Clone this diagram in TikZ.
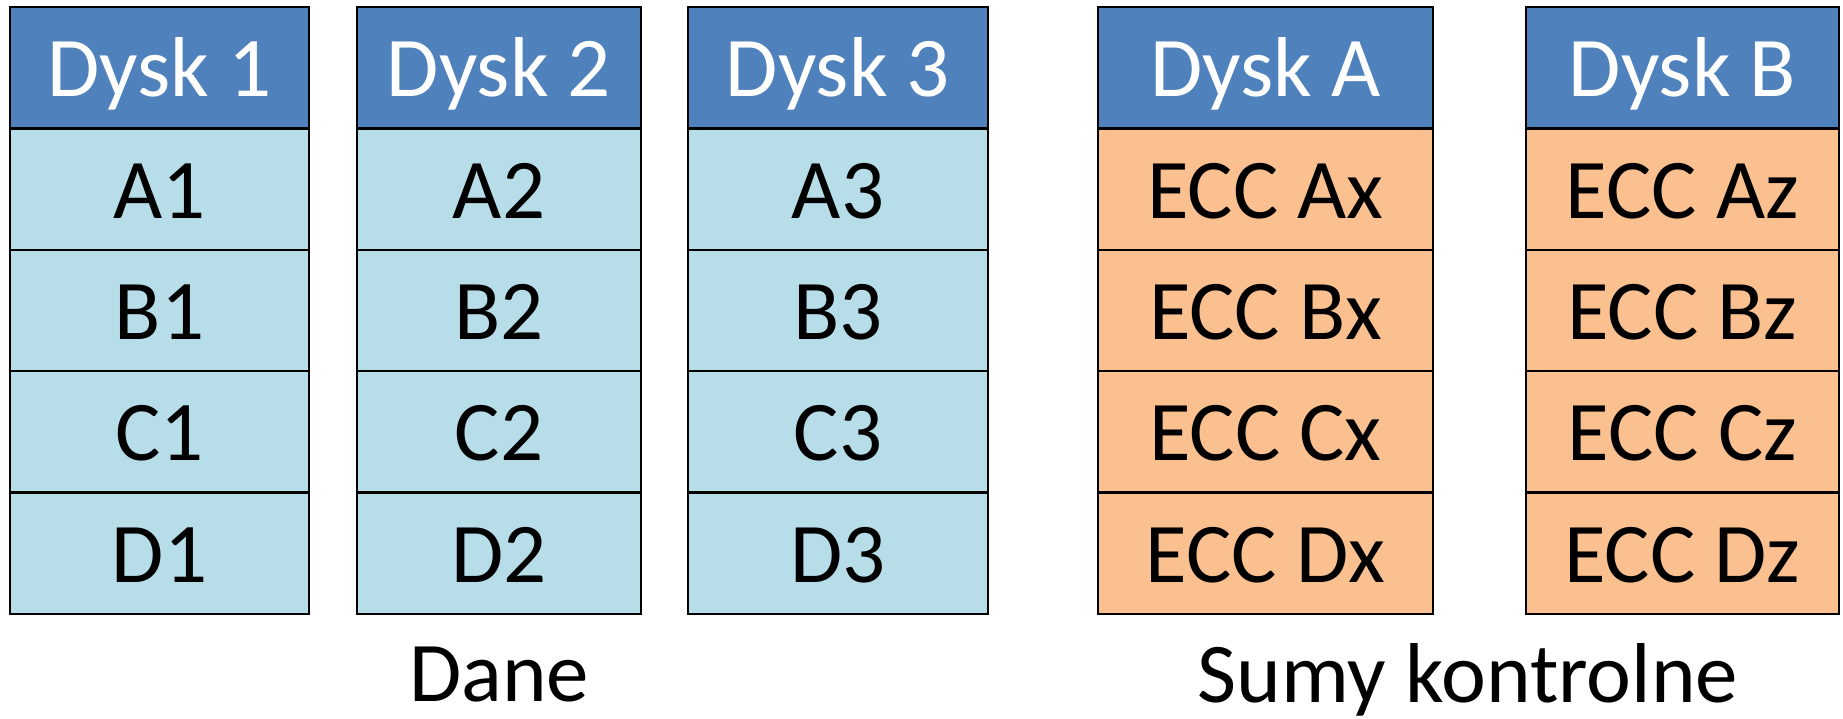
\documentclass[tikz,border=0pt]{standalone}
\usepackage{fontspec}
\setmainfont{Carlito}
\definecolor{hdrblue}{HTML}{4F81BD}
\definecolor{datablue}{HTML}{B7DDE8}
\definecolor{eccorange}{HTML}{FAC090}
\begin{document}
\begin{tikzpicture}[x=0.5pt,y=-0.5pt,
  cell/.style={draw=black,line width=1.2pt,rectangle,inner sep=0pt,minimum height=60.7pt,
    font=\fontsize{42.5}{50}\selectfont,text height=31pt,text depth=2pt},
  hdr/.style={cell,fill=hdrblue,text=white},
  dat/.style={cell,fill=datablue},
  ecc/.style={cell,fill=eccorange},
  caption/.style={inner sep=0pt,anchor=base,font=\fontsize{42.5}{50}\selectfont}]
\useasboundingbox (0,0) rectangle (1843,718);
% column 1
\node[hdr,minimum width=149.5pt] (h1) at (159.5,67.7) {Dysk 1};
\node[dat,minimum width=149.5pt] (a1) at (159.5,189.1) {A1};
\node[dat,minimum width=149.5pt] (b1) at (159.5,310.5) {B1};
\node[dat,minimum width=149.5pt] (c1) at (159.5,431.9) {C1};
\node[dat,minimum width=149.5pt] (d1) at (159.5,553.3) {D1};
% column 2
\node[hdr,minimum width=142pt] (h2) at (499,67.7) {Dysk 2};
\node[dat,minimum width=142pt] (a2) at (499,189.1) {A2};
\node[dat,minimum width=142pt] (b2) at (499,310.5) {B2};
\node[dat,minimum width=142pt] (c2) at (499,431.9) {C2};
\node[dat,minimum width=142pt] (d2) at (499,553.3) {D2};
% column 3
\node[hdr,minimum width=150pt] (h3) at (838,67.7) {Dysk 3};
\node[dat,minimum width=150pt] (a3) at (838,189.1) {A3};
\node[dat,minimum width=150pt] (b3) at (838,310.5) {B3};
\node[dat,minimum width=150pt] (c3) at (838,431.9) {C3};
\node[dat,minimum width=150pt] (d3) at (838,553.3) {D3};
% column A
\node[hdr,minimum width=167.5pt] (hA) at (1265.5,67.7) {Dysk A};
\node[ecc,minimum width=167.5pt] (aA) at (1265.5,189.1) {ECC Ax};
\node[ecc,minimum width=167.5pt] (bA) at (1265.5,310.5) {ECC Bx};
\node[ecc,minimum width=167.5pt] (cA) at (1265.5,431.9) {ECC Cx};
\node[ecc,minimum width=167.5pt] (dA) at (1265.5,553.3) {ECC Dx};
% column B
\node[hdr,minimum width=156.5pt] (hB) at (1682.5,67.7) {Dysk B};
\node[ecc,minimum width=156.5pt] (aB) at (1682.5,189.1) {ECC Az};
\node[ecc,minimum width=156.5pt] (bB) at (1682.5,310.5) {ECC Bz};
\node[ecc,minimum width=156.5pt] (cB) at (1682.5,431.9) {ECC Cz};
\node[ecc,minimum width=156.5pt] (dB) at (1682.5,553.3) {ECC Dz};
% captions
\node[caption] (dane) at (499,701) {Dane};
\node[caption] (sumy) at (1468,702) {Sumy kontrolne};
\end{tikzpicture}
\end{document}
